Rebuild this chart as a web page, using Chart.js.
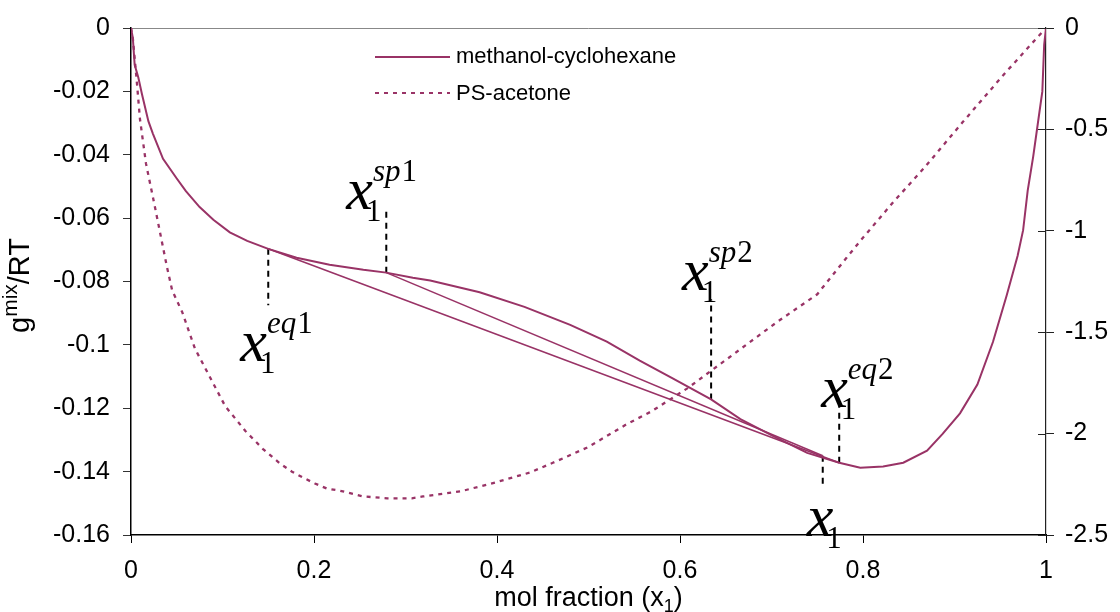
<!DOCTYPE html>
<html lang="en">
<head>
    <meta charset="utf-8">
    <title>Free energy of mixing</title>
    <script src="https://cdn.jsdelivr.net/npm/chart.js@4.4.1/dist/chart.umd.min.js"></script>
    <style>
        body { margin: 0; background: #fff; }
        #wrap { width: 1120px; height: 612px; }
    </style>
</head>
<body>
<div id="wrap"><canvas id="chart"></canvas></div>
<script>
    // methanol-cyclohexane, g_mix/RT against x1 (left axis)
    const methX = [0, 0.002, 0.004, 0.008, 0.012, 0.019, 0.024, 0.035, 0.050, 0.060, 0.075, 0.090, 0.108, 0.127,
        0.150, 0.181, 0.217, 0.254, 0.279, 0.308, 0.327, 0.381, 0.430, 0.480, 0.520, 0.556, 0.592, 0.634, 0.666,
        0.702, 0.739, 0.774, 0.797, 0.822, 0.844, 0.870, 0.887, 0.906, 0.925, 0.942, 0.957, 0.969, 0.975, 0.980,
        0.986, 0.991, 0.996, 0.998, 1.000];
    const methY = [0, -0.0031, -0.0116, -0.0156, -0.0209, -0.0294, -0.0334, -0.0413, -0.0475, -0.0515, -0.0565,
        -0.0605, -0.0645, -0.0672, -0.0697, -0.0725, -0.0747, -0.0763, -0.0772, -0.0788, -0.0797, -0.0834, -0.0880,
        -0.0937, -0.0990, -0.1050, -0.1106, -0.1172, -0.1234, -0.1288, -0.1341, -0.1372, -0.1388, -0.1384, -0.1372,
        -0.1334, -0.1281, -0.1216, -0.1125, -0.0991, -0.0844, -0.0719, -0.0638, -0.0513, -0.0406, -0.0303, -0.0200,
        -0.0053, 0];

    // PS-acetone (right axis)
    const psX = [0, 0.0022, 0.0066, 0.0098, 0.0164, 0.026, 0.039, 0.045, 0.056, 0.070, 0.103, 0.125, 0.144, 0.163,
        0.176, 0.188, 0.201, 0.214, 0.227, 0.254, 0.280, 0.307, 0.319, 0.360, 0.398, 0.436, 0.461, 0.498, 0.520,
        0.542, 0.569, 0.608, 0.706, 0.750, 0.782, 0.797, 0.833, 0.868, 0.909, 0.953, 0.988, 1.0];
    const psY = [0, -0.059, -0.278, -0.449, -0.669, -0.879, -1.172, -1.294, -1.401, -1.582, -1.865, -1.987, -2.075,
        -2.148, -2.188, -2.217, -2.246, -2.271, -2.280, -2.310, -2.319, -2.319, -2.310, -2.285, -2.241, -2.192,
        -2.144, -2.070, -2.012, -1.953, -1.890, -1.777, -1.450, -1.313, -1.133, -1.050, -0.859, -0.684, -0.464,
        -0.234, -0.059, 0];

    // common tangent (eq1 -> eq2) and the line from sp1 to the binodal point
    const tieX = [0.150, 0.774];
    const tieY = [-0.0697, -0.1372];
    const spLineX = [0.279, 0.756];
    const spLineY = [-0.0772, -0.135];

    // dashed markers: x position, start on the curve, end of the dash
    const markX    = [0.150, 0.279, 0.634, 0.774, 0.756];
    const markFrom = [-0.0697, -0.0772, -0.1172, -0.1372, -0.1350];
    const markTo   = [-0.0875, -0.0575, -0.0856, -0.1194, -0.1450];
    const markSup  = ['eq1', 'sp1', 'sp2', 'eq2', ''];

    const xTicks = [0, 0.2, 0.4, 0.6, 0.8, 1];

    const wine = '#993366';
    const sans = '"Liberation Sans", Arial, sans-serif';
    const serif = '"Liberation Serif", "Times New Roman", serif';

    // where each x1 label sits relative to the end of its dash (px)
    const labelOffset = [[-28, 56], [-40, -1], [-29, -9], [-18, 1], [-16, 49]];

    const pts = (xs, ys) => xs.map((x, i) => ({x: x, y: ys[i]}));

    const datasets = [
        {label: 'methanol-cyclohexane', data: pts(methX, methY), borderColor: wine, borderWidth: 2, yAxisID: 'y'},
        {label: 'PS-acetone', data: pts(psX, psY), borderColor: wine, borderWidth: 2.3, borderDash: [4, 5], yAxisID: 'y2'},
        {label: 'tie', data: pts(tieX, tieY), borderColor: wine, borderWidth: 1.6, yAxisID: 'y'},
        {label: 'sp', data: pts(spLineX, spLineY), borderColor: wine, borderWidth: 1.6, yAxisID: 'y'}
    ];
    markX.forEach((x, i) => {
        datasets.push({label: 'mark' + i, data: [{x: x, y: markFrom[i]}, {x: x, y: markTo[i]}],
            borderColor: '#000', borderWidth: 2, borderDash: [6, 5], yAxisID: 'y'});
    });

    function fmt(v) {
        return v === 0 ? '0' : String(+v.toFixed(2));
    }

    function mathLabel(ctx, x, y, sup) {
        ctx.font = 'italic 60px ' + serif;
        ctx.fillText('x', x, y);
        const w = ctx.measureText('x').width;
        ctx.font = '31px ' + serif;
        ctx.fillText('1', x + w - 7, y + 12);
        if (sup) {
            const letters = sup.slice(0, -1);
            let sx = x + w;
            ctx.font = 'italic 31px ' + serif;
            ctx.fillText(letters, sx, y - 28);
            sx += ctx.measureText(letters).width + 1;
            ctx.font = '31px ' + serif;
            ctx.fillText(sup.slice(-1), sx, y - 28);
        }
    }

    // text with one smaller raised or lowered piece in the middle
    function richText(ctx, parts, x, y) {
        let w = 0;
        parts.forEach(p => { ctx.font = p.size + 'px ' + sans; p.w = ctx.measureText(p.t).width; w += p.w; });
        let cx = x - w / 2;
        parts.forEach(p => {
            ctx.font = p.size + 'px ' + sans;
            ctx.fillText(p.t, cx, y + (p.dy || 0));
            cx += p.w;
        });
    }

    const decorations = {
        id: 'decorations',
        afterDraw(chart) {
            const ctx = chart.ctx;
            const xs = chart.scales.x, ys = chart.scales.y, y2 = chart.scales.y2;
            const area = chart.chartArea;
            ctx.save();

            // ticks on the right axis reach into the plot too
            ctx.strokeStyle = '#222';
            ctx.lineWidth = 1;
            y2.ticks.forEach(t => {
                const py = Math.round(y2.getPixelForValue(t.value)) + 0.5;
                ctx.beginPath();
                ctx.moveTo(area.right - 8, py);
                ctx.lineTo(area.right, py);
                ctx.stroke();
            });

            // legend
            ctx.strokeStyle = wine;
            ctx.lineWidth = 2;
            ctx.beginPath();
            ctx.moveTo(375, 57); ctx.lineTo(450, 57);
            ctx.stroke();
            ctx.setLineDash([4, 5]);
            ctx.beginPath();
            ctx.moveTo(375, 93); ctx.lineTo(450, 93);
            ctx.stroke();
            ctx.setLineDash([]);
            ctx.fillStyle = '#000';
            ctx.font = '22px ' + sans;
            ctx.textBaseline = 'middle';
            ctx.fillText('methanol-cyclohexane', 456, 57);
            ctx.fillText('PS-acetone', 456, 94);

            // axis titles
            ctx.textBaseline = 'alphabetic';
            richText(ctx, [{t: 'mol fraction (x', size: 27}, {t: '1', size: 18, dy: 6}, {t: ')', size: 27}],
                (area.left + area.right) / 2, 606);

            ctx.save();
            ctx.translate(29, (area.top + area.bottom) / 2 + 4);
            ctx.rotate(-Math.PI / 2);
            richText(ctx, [{t: 'g', size: 29}, {t: 'mix', size: 21, dy: -12}, {t: '/RT', size: 29}], 0, 0);
            ctx.restore();

            // x1 labels at the ends of the dashed markers
            ctx.fillStyle = '#000';
            markX.forEach((x, i) => {
                const px = xs.getPixelForValue(x) + labelOffset[i][0];
                const py = ys.getPixelForValue(markTo[i]) + labelOffset[i][1];
                mathLabel(ctx, px, py, markSup[i]);
            });
            ctx.restore();
        }
    };

    const tickFont = {family: sans, size: 25};

    new Chart(document.getElementById('chart'), {
        type: 'line',
        data: {datasets: datasets},
        plugins: [decorations],
        options: {
            responsive: true,
            maintainAspectRatio: false,
            animation: false,
            layout: {padding: {top: 23, left: 0, right: 0, bottom: 0}},
            elements: {point: {radius: 0}, line: {tension: 0}},
            plugins: {legend: {display: false}, tooltip: {enabled: false}},
            scales: {
                x: {
                    type: 'linear', min: 0, max: 1,
                    afterBuildTicks: s => { s.ticks = xTicks.map(v => ({value: v})); },
                    afterFit: s => { s.height = 77; },
                    ticks: {font: tickFont, color: '#000', padding: 13, maxRotation: 0, callback: fmt},
                    grid: {drawOnChartArea: false, tickLength: 8, tickColor: '#000'},
                    border: {color: '#000', width: 1.5}
                },
                y: {
                    position: 'left', min: -0.16, max: 0,
                    ticks: {stepSize: 0.02, font: tickFont, color: '#000', padding: 13, callback: fmt},
                    afterFit: s => { s.width = 131; },
                    grid: {
                        color: c => (c.tick && c.tick.value === 0) ? '#888' : 'rgba(0,0,0,0)',
                        tickLength: 8, tickColor: '#333'
                    },
                    border: {color: '#000', width: 1.5}
                },
                y2: {
                    position: 'right', min: -2.5, max: 0,
                    ticks: {stepSize: 0.5, font: tickFont, color: '#000', padding: 11, callback: fmt},
                    afterFit: s => { s.width = 74; },
                    grid: {drawOnChartArea: false, tickLength: 8, tickColor: '#222'},
                    border: {color: '#222', width: 1.2}
                }
            }
        }
    });
</script>
</body>
</html>
